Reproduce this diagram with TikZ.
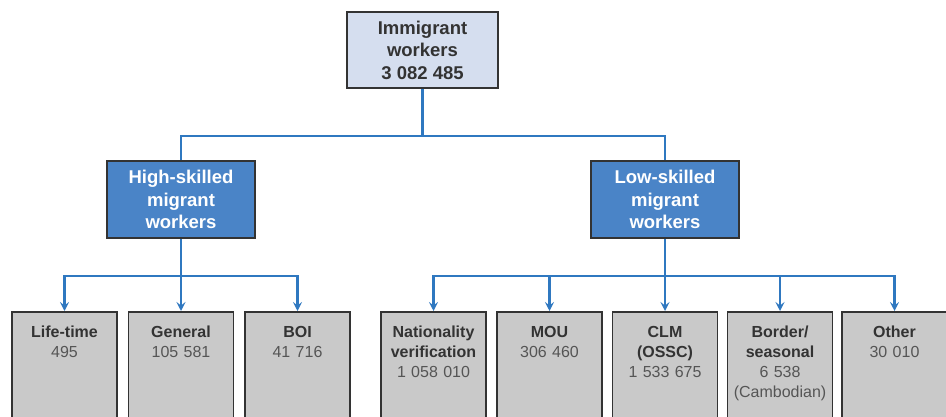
\documentclass[tikz,border=0pt]{standalone}
\usepackage{fontspec}
\setmainfont{Liberation Sans}
\usetikzlibrary{arrows.meta}
\definecolor{topfill}{HTML}{D5DEEF}
\definecolor{midfill}{HTML}{4A84C7}
\definecolor{leaffill}{HTML}{C9C9C9}
\definecolor{linkblue}{HTML}{2F78C0}
\definecolor{boxline}{HTML}{333333}
\definecolor{numgray}{HTML}{555555}
\tikzset{
  topbox/.style={draw=boxline, line width=1.8pt, fill=topfill, text=boxline,
    font=\fontsize{18.5}{22.5}\selectfont\bfseries, align=center,
    minimum width=151pt, minimum height=76pt, inner sep=0pt},
  midbox/.style={topbox, fill=midfill, text=white, minimum width=148pt, minimum height=77pt},
  leafbox/.style={draw=boxline, line width=1.8pt, fill=leaffill, anchor=north,
    text width=100pt, align=center, inner xsep=2.5pt, inner ysep=14pt, text depth=110pt,
    font=\fontsize{16}{20}\selectfont, text=numgray},
  link/.style={draw=linkblue, line width=2.2pt},
  linkarrow/.style={link, -{Stealth[length=9pt, width=9pt, inset=3.5pt]}},
}
\newcommand{\leafhead}[1]{\textbf{\color{boxline}#1}}

\begin{document}
\begin{tikzpicture}[x=1pt, y=-1pt]
\useasboundingbox (0,0) rectangle (946,417);
\clip (0,0) rectangle (946,417);

\node[topbox] (imm) at (422.5,50) {Immigrant\\workers\\3 082 485};
\node[midbox] (high) at (181,199.5) {High-skilled\\migrant\\workers};
\node[midbox] (low) at (665,199.5) {Low-skilled\\migrant\\workers};

\node[leafbox] (life) at (64.5,311) {\leafhead{Life-time}\\495};
\node[leafbox] (general) at (181,311) {\leafhead{General}\\105 581};
\node[leafbox] (boi) at (297.5,311) {\leafhead{BOI}\\41 716};

\node[leafbox] (nation) at (433.5,311) {\leafhead{Nationality}\\\leafhead{verification}\\1 058 010};
\node[leafbox] (mou) at (549.5,311) {\leafhead{MOU}\\306 460};
\node[leafbox] (clm) at (665,311) {\leafhead{CLM}\\\leafhead{(OSSC)}\\1 533 675};
\node[leafbox] (border) at (780,311) {\leafhead{Border/}\\\leafhead{seasonal}\\6 538\\(Cambodian)};
\node[leafbox] (other) at (894.5,311) {\leafhead{Other}\\30 010};

\coordinate (split) at (422.5,136);
\coordinate (splithigh) at (181,276);
\coordinate (splitlow) at (665,276);

\draw[link] (imm.south) -- (split);
\draw[link] (split) -| (high.north);
\draw[link] (split) -| (low.north);

\draw[link] (high.south) -- (splithigh);
\draw[linkarrow] (splithigh) -| (life.north);
\draw[linkarrow] (splithigh) -- (general.north);
\draw[linkarrow] (splithigh) -| (boi.north);

\draw[link] (low.south) -- (splitlow);
\draw[linkarrow] (splitlow) -| (nation.north);
\draw[linkarrow] (splitlow) -| (mou.north);
\draw[linkarrow] (splitlow) -- (clm.north);
\draw[linkarrow] (splitlow) -| (border.north);
\draw[linkarrow] (splitlow) -| (other.north);

\end{tikzpicture}
\end{document}
